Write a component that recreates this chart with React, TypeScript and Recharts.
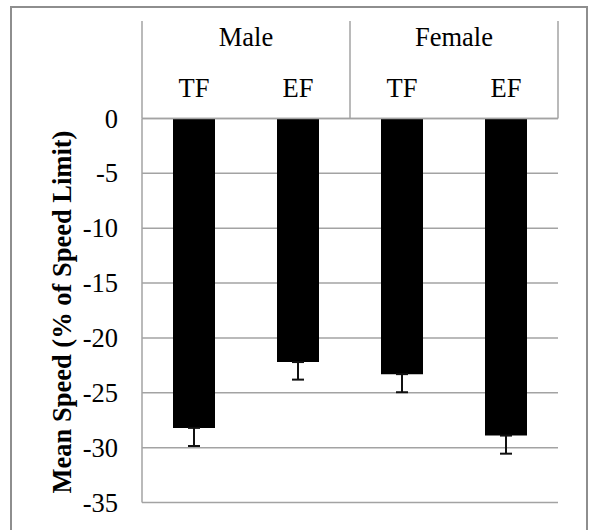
import { BarChart, Bar, XAxis, YAxis, CartesianGrid, ErrorBar } from 'recharts';

// values (mean speed as % of speed limit, with SE)
const conditions = ['TF', 'EF', 'TF', 'EF'];
const groups = ['Male', 'Male', 'Female', 'Female'];
const meanSpeed = [-28.2, -22.2, -23.3, -28.9];
const stdError = [1.65, 1.6, 1.65, 1.65];
const yTicks = [0, -5, -10, -15, -20, -25, -30, -35];

// only the lower whisker shows in the figure, so the upper part is zero
const data = conditions.map((cond, i) => ({
  key: `${groups[i]}-${cond}`,
  cond,
  group: groups[i],
  value: meanSpeed[i],
  err: [stdError[i], 0],
}));

const W = 589;
const H = 530;
const FONT = 'Liberation Serif';
const GRID = '#a3a3a3';
const PLOT_LEFT = 142;
const PLOT_RIGHT = 558;
const PLOT_TOP = 118.5;
const PLOT_BOTTOM = 502.5;
const BAND = (PLOT_RIGHT - PLOT_LEFT) / data.length;
const FS = 26.5;

function HeaderTick({ x, payload }: any) {
  const idx = data.findIndex((d) => d.key === payload.value);
  const d = data[idx];
  if (!d) return null;
  const half = BAND / 2;
  const first = idx === 0 || data[idx - 1].group !== d.group;
  const last = idx === data.length - 1;
  return (
    <g>
      <text x={x} y={97} textAnchor="middle" fontFamily={FONT} fontSize={FS} fill="#000">
        {d.cond}
      </text>
      {first && (
        <>
          <text x={x + half} y={46} textAnchor="middle" fontFamily={FONT} fontSize={FS} fill="#000">
            {d.group}
          </text>
          <line x1={x - half} x2={x - half} y1={21} y2={PLOT_TOP} stroke={GRID} strokeWidth={1.5} />
        </>
      )}
      {last && (
        <line x1={x + half} x2={x + half} y1={21} y2={PLOT_TOP} stroke={GRID} strokeWidth={1.5} />
      )}
    </g>
  );
}

function YTick({ x, y, payload }: any) {
  return (
    <text x={x} y={y} dy="0.34em" textAnchor="end" fontFamily={FONT} fontSize={FS} fill="#000">
      {payload.value}
    </text>
  );
}

function YLabel() {
  const cy = (PLOT_TOP + PLOT_BOTTOM) / 2 + 1.5;
  return (
    <text
      x={62}
      y={cy}
      transform={`rotate(-90, 62, ${cy})`}
      textAnchor="middle"
      dominantBaseline="central"
      fontFamily={FONT}
      fontSize={FS}
      fontWeight="bold"
      fill="#000"
    >
      Mean Speed (% of Speed Limit)
    </text>
  );
}

export default function App() {
  return (
    <div
      style={{
        position: 'absolute',
        left: 0,
        top: 0,
        width: W,
        height: H,
        overflow: 'hidden',
        background: '#fff',
        fontFamily: FONT,
      }}
    >
      <style>{`.speed-chart text { font-family: 'Liberation Serif' !important; }`}</style>
      <div
        style={{
          position: 'absolute',
          left: 10,
          top: 6,
          width: 577.5,
          height: 580,
          border: '2.5px solid #8e8e8e',
          boxSizing: 'border-box',
        }}
      />
      <div className="speed-chart" style={{ position: 'absolute', left: 0, top: 0 }}>
        <BarChart
          width={W}
          height={H}
          data={data}
          style={{ fontFamily: FONT }}
          margin={{ top: 0, right: W - PLOT_RIGHT, left: 0, bottom: H - PLOT_BOTTOM }}
        >
          <CartesianGrid vertical={false} stroke={GRID} strokeWidth={1.5} />
          <XAxis
            dataKey="key"
            orientation="top"
            height={PLOT_TOP}
            interval={0}
            tickLine={false}
            axisLine={{ stroke: GRID, strokeWidth: 1.5 }}
            tick={<HeaderTick />}
          />
          <YAxis
            type="number"
            domain={[-35, 0]}
            ticks={yTicks}
            width={PLOT_LEFT}
            tickLine={false}
            tickSize={6}
            tickMargin={18}
            axisLine={{ stroke: GRID, strokeWidth: 1.5 }}
            tick={<YTick />}
            label={<YLabel />}
          />
          <Bar dataKey="value" fill="#000" barSize={42} isAnimationActive={false}>
            <ErrorBar
              dataKey="err"
              direction="y"
              width={6}
              stroke="#111"
              strokeWidth={2}
              isAnimationActive={false}
            />
          </Bar>
        </BarChart>
      </div>
    </div>
  );
}
